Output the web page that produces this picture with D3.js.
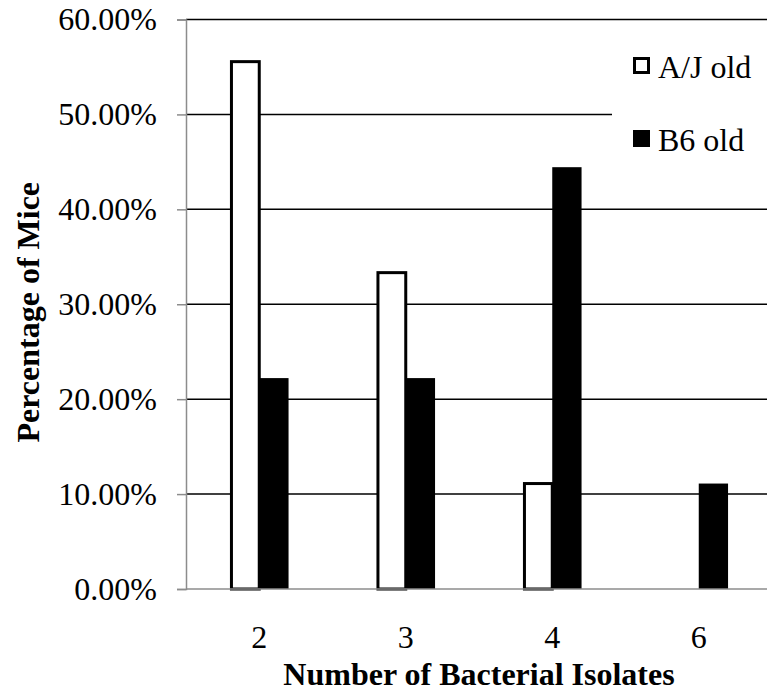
<!DOCTYPE html>
<html>
<head>
<meta charset="utf-8">
<script src="https://cdn.jsdelivr.net/npm/d3@7"></script>
<style>
  body { margin: 0; background: #fff; }
  svg { display: block; }
  text { font-family: "Liberation Serif", "Times New Roman", serif; fill: #000; }
</style>
</head>
<body>
<script>
// chart data
const categories = ["2", "3", "4", "6"];
const seriesNames = ["A/J old", "B6 old"];
const ajOld = [0.5556, 0.3333, 0.1111, 0];
const b6Old = [0.2222, 0.2222, 0.4444, 0.1111];
const yTicks = [0, 0.1, 0.2, 0.3, 0.4, 0.5, 0.6];

const width = 767;
const height = 694;
const margin = { left: 186, right: -5, top: 19.5, bottom: 105 };

const svg = d3.select("body").append("svg")
  .attr("width", width)
  .attr("height", height);

const x = d3.scaleBand()
  .domain(categories)
  .range([margin.left, width - margin.right])
  .paddingInner(0.6)
  .paddingOuter(0.3);

const xSub = d3.scaleBand()
  .domain(seriesNames)
  .range([0, x.bandwidth()]);

const y = d3.scaleLinear()
  .domain([0, 0.6])
  .range([height - margin.bottom, margin.top]);

const fmt = d3.format(".2%");

// gridlines
svg.append("g")
  .selectAll("line")
  .data(yTicks.filter(d => d > 0))
  .enter().append("line")
  .attr("x1", margin.left)
  .attr("x2", width)
  .attr("y1", d => y(d))
  .attr("y2", d => y(d))
  .attr("stroke", "#000")
  .attr("stroke-width", 1.5);

// y axis tick labels and tick marks
const yAxis = svg.append("g")
  .attr("transform", `translate(${margin.left},0)`)
  .call(d3.axisLeft(y).tickValues(yTicks).tickFormat(fmt).tickSize(9).tickPadding(20))
  .attr("font-family", null)
  .attr("font-size", null);
yAxis.select(".domain").attr("stroke", "#8c8c8c").attr("stroke-width", 1.5);
yAxis.selectAll(".tick line").attr("stroke", "#8c8c8c").attr("stroke-width", 1.5);
yAxis.selectAll(".tick text")
  .style("font-size", "32px")
  .attr("fill", "#000");

// bars
const rows = categories.map((c, i) => ({ cat: c, vals: [ajOld[i], b6Old[i]] }));

const group = svg.append("g")
  .selectAll("g")
  .data(rows)
  .enter().append("g")
  .attr("transform", d => `translate(${x(d.cat)},0)`);

group.selectAll("rect")
  .data(d => d.vals.map((v, j) => ({ name: seriesNames[j], value: v })).filter(d => d.value > 0))
  .enter().append("rect")
  .attr("x", d => d.name === "A/J old" ? xSub(d.name) + 1.5 : xSub(d.name))
  .attr("width", d => d.name === "A/J old" ? xSub.bandwidth() - 1.5 : xSub.bandwidth())
  .attr("y", d => y(d.value))
  .attr("height", d => y(0) - y(d.value))
  .attr("fill", d => d.name === "A/J old" ? "#fff" : "#000")
  .attr("stroke", d => d.name === "A/J old" ? "#000" : "none")
  .attr("stroke-width", 3);

// x axis line
svg.append("line")
  .attr("x1", margin.left)
  .attr("x2", width)
  .attr("y1", y(0))
  .attr("y2", y(0))
  .attr("stroke", "#8c8c8c")
  .attr("stroke-width", 1.5);

// x tick labels
svg.append("g")
  .selectAll("text")
  .data(categories)
  .enter().append("text")
  .attr("x", d => x(d) + x.bandwidth() / 2)
  .attr("y", 648)
  .attr("text-anchor", "middle")
  .style("font-size", "32px")
  .text(d => d);

// axis titles
svg.append("text")
  .attr("x", (margin.left + width - margin.right) / 2)
  .attr("y", 685)
  .attr("text-anchor", "middle")
  .style("font-size", "32px")
  .style("font-weight", "bold")
  .text("Number of Bacterial Isolates");

svg.append("text")
  .attr("transform", `translate(39,${(y(0) + y(0.6)) / 2 + 8}) rotate(-90)`)
  .attr("text-anchor", "middle")
  .style("font-size", "32px")
  .style("font-weight", "bold")
  .text("Percentage of Mice");

// legend
const legend = svg.append("g");
legend.append("rect")
  .attr("x", 612)
  .attr("y", 40)
  .attr("width", 155)
  .attr("height", 130)
  .attr("fill", "#fff");

const ly = d3.scalePoint().domain(seriesNames).range([65, 138]);

const item = legend.selectAll("g.item")
  .data(seriesNames)
  .enter().append("g")
  .attr("class", "item")
  .attr("transform", d => `translate(0,${ly(d)})`);

item.append("rect")
  .attr("x", d => d === "A/J old" ? 634.5 : 633)
  .attr("y", d => d === "A/J old" ? -6.5 : -8)
  .attr("width", d => d === "A/J old" ? 14 : 17)
  .attr("height", d => d === "A/J old" ? 14 : 17)
  .attr("fill", d => d === "A/J old" ? "#fff" : "#000")
  .attr("stroke", d => d === "A/J old" ? "#000" : "none")
  .attr("stroke-width", 3);

item.append("text")
  .attr("x", 658)
  .attr("y", 13)
  .style("font-size", "32px")
  .text(d => d);
</script>
</body>
</html>
